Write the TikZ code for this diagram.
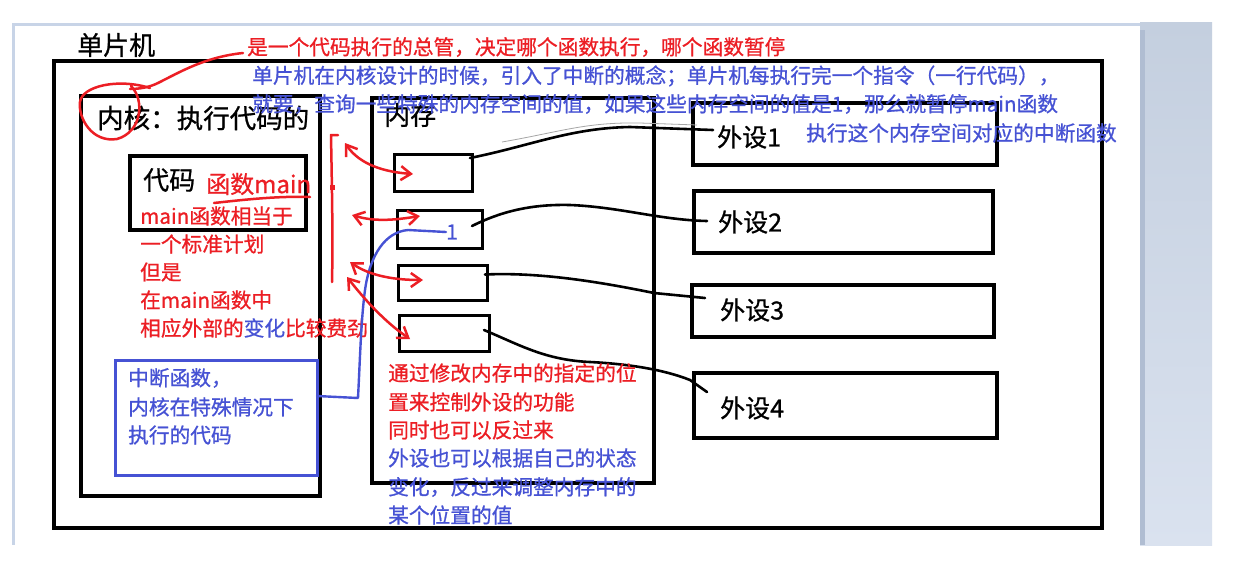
\documentclass[tikz,border=0pt]{standalone}
\usepackage{fontspec}
\setmainfont{Noto Sans CJK SC}[FakeBold=0.8]
\usetikzlibrary{arrows.meta,calc}
\definecolor{ired}{RGB}{236,30,36}
\definecolor{iblue}{RGB}{70,82,212}
\definecolor{framec}{RGB}{200,212,231}
\definecolor{paneltop}{RGB}{196,207,223}
\definecolor{panelbot}{RGB}{218,226,239}
\definecolor{panelstripe}{RGB}{176,189,210}
\tikzset{
  bx/.style={draw=black, line width=3.3pt, inner sep=0pt, outer sep=0pt, anchor=north west},
  cellbox/.style={draw=black, line width=3pt, inner sep=0pt, outer sep=0pt, anchor=north west},
  blk/.style={anchor=west, inner sep=0pt, text=black, font=\fontsize{26}{30}\selectfont},
  rtxt/.style={anchor=west, inner sep=0pt, text=ired, font=\fontsize{20.7}{24}\selectfont},
  btxt/.style={anchor=west, inner sep=0pt, text=iblue, font=\fontsize{20.7}{24}\selectfont},
  wire/.style={draw=black, line width=2.6pt, line cap=round, line join=round},
  redpen/.style={draw=ired, line width=2.5pt, line cap=round, line join=round},
  bluepen/.style={draw=iblue, line width=2.4pt, line cap=round, line join=round},
  redarrow/.style={redpen, {Straight Barb[length=10pt,width=14pt,line width=2.5pt]}-{Straight Barb[length=10pt,width=14pt,line width=2.5pt]}},
}
\begin{document}
\begin{tikzpicture}[x=1pt,y=-1pt]
\useasboundingbox (0,0) rectangle (1235,574);
\fill[white] (0,0) rectangle (1235,574);
% page frame
\draw[framec, line width=3pt] (1140,24.5) -- (13.5,24.5) -- (13.5,545);
\shade[top color=paneltop, bottom color=panelbot] (1140,22) rectangle (1212,545);
\fill[panelstripe] (1140,30) rectangle (1145,545);

% boxes
\node[bx, minimum width=1048, minimum height=467] (mcu) at (54,61) {};
\node[bx, minimum width=239, minimum height=400] (core) at (81,96) {};
\node[bx, minimum width=176, minimum height=74] (code) at (130,156) {};
\node[bx, draw=iblue, line width=3pt, minimum width=202, minimum height=115] (intbox) at (115,360) {};
\node[bx, minimum width=282, minimum height=385] (mem) at (372,98) {};
\node[cellbox, minimum width=78, minimum height=37] (c1) at (394,154) {};
\node[cellbox, minimum width=85, minimum height=38] (c2) at (397,210) {};
\node[cellbox, minimum width=89, minimum height=35] (c3) at (398,265) {};
\node[cellbox, minimum width=90, minimum height=36] (c4) at (399,315) {};
\node[bx, minimum width=304, minimum height=62] (p1) at (693,103) {};
\node[bx, minimum width=299, minimum height=62] (p2) at (694,191) {};
\node[bx, minimum width=302, minimum height=52] (p3) at (692,285) {};
\node[bx, minimum width=303, minimum height=65] (p4) at (694,373) {};

% black labels
\node[blk] (tmcu) at (77,45) {单片机};
\node[blk, font=\fontsize{26.5}{30}\selectfont] (tcore) at (97,118) {内核：执行代码的};
\node[blk] (tcode) at (143,180) {代码};
\node[blk] (tmem) at (384,115) {内存};
\node[blk, font=\fontsize{25}{30}\selectfont] (p1t) at (717,137) {外设1};
\node[blk, font=\fontsize{25}{30}\selectfont] (p2t) at (718,222) {外设2};
\node[blk, font=\fontsize{25}{30}\selectfont] (p3t) at (720,310) {外设3};
\node[blk, font=\fontsize{25}{30}\selectfont] (p4t) at (720,408) {外设4};

% connectors memory cells -> peripherals
\draw[draw=gray!70, line width=0.8pt] ($(c1.north east)+(30,-12)$) .. controls (560,132) and (585,122) .. (640,123) -- ($(p1t.west)+(-20,-12)$);
\draw[wire] ($(c1.north east)+(-2,4)$) .. controls (530,146) and (570,128) .. (630,127) -- ($(p1t.west)+(-4,-7)$);
\draw[wire] ($(c2.east)+(-10,-3)$) .. controls (500,212) and (530,204) .. (570,205) .. controls (620,207) and (660,220) .. ($(p2t.west)+(-11,-1)$);
\draw[wire] ($(c3.east)+(-2,-8)$) .. controls (540,272) and (600,282) .. (654,293) -- ($(p3t.west)+(-15,-12)$);
\draw[wire] ($(c4.east)+(-5,-3)$) .. controls (520,345) and (545,360) .. (590,362) .. controls (630,364) and (665,370) .. (690,380) -- ($(p4t.west)+(-13,-16)$);

% top annotations
\node[rtxt] (note1) at (247,47) {是一个代码执行的总管，决定哪个函数执行，哪个函数暂停};
\node[btxt] (note2) at (252,76) {单片机在内核设计的时候，引入了中断的概念；单片机每执行完一个指令（一行代码），};
\node[btxt] (note3) at (252,104) {就要，查询一些特殊的内存空间的值，如果这些内存空间的值是1，那么就暂停main函数};
\node[btxt] (note4) at (806,133) {执行这个内存空间对应的中断函数};

% code annotations
\node[rtxt, font=\fontsize{24}{28}\selectfont] (tmain) at (206,184) {函数main};
\node[rtxt] (r1) at (140,216) {main函数相当于};
\node[rtxt] (r2) at (140,244) {一个标准计划};
\node[rtxt] (r3) at (140,272) {但是};
\node[rtxt] (r4) at (140,300) {在main函数中};
\node[rtxt] (r5) at (140,328) {相应外部的\textcolor{iblue}{变化}比较费劲};

% interrupt box text
\node[btxt] (b1) at (128,378) {中断函数，};
\node[btxt] (b2) at (128,407) {内核在特殊情况下};
\node[btxt] (b3) at (128,435) {执行的代码};

% memory notes
\node[rtxt] (m1) at (388,373) {通过修改内存中的指定的位};
\node[rtxt] (m2) at (388,402) {置来控制外设的功能};
\node[rtxt] (m3) at (388,430) {同时也可以反过来};
\node[btxt] (m4) at (388,458) {外设也可以根据自己的状态};
\node[btxt] (m5) at (388,487) {变化，反过来调整内存中的};
\node[btxt] (m6) at (388,515) {某个位置的值};

% blue "1" and link to interrupt box
\node[anchor=west, inner sep=0pt, text=iblue, font=\fontsize{21}{24}\selectfont] (one) at (446,232) {1};
\coordinate (ibout) at (317,396);
\draw[bluepen] (one.west) -- (408,230) .. controls (385,232) and (370,255) .. (365,290) .. controls (361,320) and (360,360) .. (358,398) -- (ibout);

% red marks
\draw[redpen] (243,53) .. controls (205,57) and (180,72) .. (158,83) .. controls (150,87) and (140,89) .. (130,89);
\draw[redpen] (131,86) .. controls (145,100) and (142,132) .. (117,139) .. controls (92,143) and (78,118) .. (80,102) .. controls (82,86) and (118,78) .. (150,88);
\draw[redpen] (214,203) .. controls (250,199) and (280,196) .. (310,197);
\draw[redpen] (338,135) -- (331,135) .. controls (332,190) and (333,240) .. (332,282);
\fill[ired] (330,185) rectangle (335,190);
\draw[redarrow] (345,143) .. controls (360,165) and (385,172) .. (413,174);
\draw[redarrow] (352,215) .. controls (375,222) and (395,220) .. (420,216);
\draw[redarrow] (350,262) .. controls (370,276) and (395,280) .. (423,280);
\draw[redarrow] (347,277) .. controls (365,300) and (385,322) .. (410,339);
\end{tikzpicture}
\end{document}
